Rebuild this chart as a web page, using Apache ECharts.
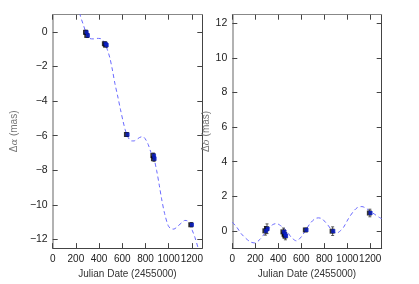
<!DOCTYPE html>
<html><head><meta charset="utf-8">
<script src="https://cdn.jsdelivr.net/npm/echarts@6/dist/echarts.min.js"></script>
<style>html,body{margin:0;padding:0;background:#fff}#c{width:419px;height:284px}</style>
</head><body><div id="c"></div>
<script>
// Observations, left panel (Delta alpha)
const alphaX = [287, 298, 450, 460, 640, 868, 873, 1195];
const alphaY = [-0.02, -0.2, -0.68, -0.76, -5.93, -7.15, -7.33, -11.15];
const alphaErr = [0.12, 0.12, 0.1, 0.1, 0.1, 0.15, 0.15, 0.12];
// Observations, right panel (Delta delta)
const deltaX = [288, 302, 445, 455, 462, 640, 873, 1197];
const deltaY = [0.0, 0.12, -0.06, -0.2, -0.3, 0.05, -0.02, 1.03];
const deltaErr = [0.25, 0.28, 0.22, 0.22, 0.22, 0.1, 0.25, 0.22];
// Model curves
const alphaCurve = [[220,1.5],[240,0.9],[260,0.5],[287,-0.03],[300,-0.2],[321,-0.38],[350,-0.4],[379,-0.37],[410,-0.38],[430,-0.45],[450,-0.68],[470,-1.0],[493,-1.5],[515,-2.2],[537,-3.0],[560,-3.7],[585,-4.5],[608,-5.2],[625,-5.65],[640,-5.95],[660,-6.2],[680,-6.3],[700,-6.3],[723,-6.22],[750,-6.1],[775,-6.05],[795,-6.15],[823,-6.5],[852,-7.05],[870,-7.25],[896,-8.0],[920,-8.9],[939,-9.65],[965,-10.5],[996,-11.2],[1020,-11.38],[1045,-11.4],[1075,-11.25],[1111,-11.04],[1140,-10.9],[1160,-10.92],[1183,-11.16],[1205,-11.5],[1226,-11.87],[1254,-12.5],[1270,-12.9]];
const deltaCurve = [[0,0.5],[40,0.2],[78,-0.17],[120,-0.45],[160,-0.65],[195,-0.7],[240,-0.5],[282,-0.15],[320,0.15],[350,0.35],[384,0.42],[420,0.3],[471,0.02],[510,-0.35],[558,-0.58],[600,-0.35],[640,0.05],[680,0.45],[720,0.7],[750,0.75],[780,0.7],[810,0.5],[837,0.29],[870,0.0],[910,-0.13],[940,0.0],[968,0.2],[1010,0.7],[1055,1.13],[1090,1.35],[1128,1.4],[1160,1.32],[1200,1.13],[1240,0.95],[1273,0.8],[1300,0.7]];
const xTicks = [0, 200, 400, 600, 800, 1000, 1200];
const alphaTicks = [0, -2, -4, -6, -8, -10, -12];
const deltaTicks = [0, 2, 4, 6, 8, 10, 12];

const font = 'Liberation Sans, Arial, sans-serif';
const fmt = v => String(v).replace('-', '\u2212');
function xAx(grid, max, pos, show) {
  return {
    type: 'value', gridIndex: grid, min: 0, max: max, position: pos,
    axisLine: {show: true, onZero: false, lineStyle: {color: pos === 'top' ? '#888' : '#444', width: 1}},
    axisTick: {show: true, inside: true, length: 5, customValues: xTicks, lineStyle: {color: '#444'}},
    axisLabel: {show: show, customValues: xTicks, interval: 0, hideOverlap: false, showMinLabel: true, showMaxLabel: true,
      color: '#222', fontSize: 10, fontFamily: font, margin: 6, formatter: v => String(v)},
    splitLine: {show: false},
    name: show ? 'Julian Date (2455000)' : '', nameLocation: 'middle', nameGap: 19,
    nameTextStyle: {color: '#333', fontSize: 10, fontFamily: font}
  };
}
function yAx(grid, min, max, ticks, pos, show, name, gap) {
  return {
    type: 'value', gridIndex: grid, min: min, max: max, position: pos,
    axisLine: {show: true, onZero: false, lineStyle: {color: pos === 'left' ? '#999' : '#444', width: pos === 'left' ? 1.5 : 1}},
    axisTick: {show: true, inside: true, length: 5, customValues: ticks, lineStyle: {color: '#444'}},
    axisLabel: {show: show, customValues: ticks, showMinLabel: true, showMaxLabel: true, color: '#222', fontSize: 10.5, fontFamily: font, margin: 5, formatter: fmt},
    splitLine: {show: false},
    name: name, nameLocation: 'middle', nameGap: gap, nameRotate: 90,
    nameTextStyle: {color: '#777', fontSize: 10, fontFamily: font,
      rich: {n: {color: '#777', fontSize: 10, fontFamily: font}, i: {color: '#777', fontSize: 10, fontFamily: 'DejaVu Serif, serif', fontStyle: 'italic'}}}
  };
}
function errSeries(xi, yi, xs, ys, es) {
  return {
    type: 'custom', xAxisIndex: xi, yAxisIndex: yi, z: 3,
    data: xs.map((x, k) => [x, ys[k], es[k]]),
    renderItem: (params, api) => {
      const x = api.value(0), y = api.value(1), e = api.value(2);
      const p1 = api.coord([x, y - e]), p2 = api.coord([x, y + e]);
      const st = {stroke: '#333', lineWidth: 0.8};
      return {type: 'group', children: [
        {type: 'line', shape: {x1: p1[0], y1: p1[1], x2: p2[0], y2: p2[1]}, style: st},
        {type: 'line', shape: {x1: p1[0]-1.5, y1: p1[1], x2: p1[0]+1.5, y2: p1[1]}, style: st},
        {type: 'line', shape: {x1: p2[0]-1.5, y1: p2[1], x2: p2[0]+1.5, y2: p2[1]}, style: st}
      ]};
    }
  };
}
function pts(xi, yi, xs, ys, color, size, dx, z) {
  return {type: 'scatter', xAxisIndex: xi, yAxisIndex: yi, symbol: 'rect', symbolSize: size,
    symbolOffset: [dx, 0], z: z, itemStyle: {color: color}, data: xs.map((x, k) => [x, ys[k]])};
}
function curve(xi, yi, data) {
  return {type: 'line', xAxisIndex: xi, yAxisIndex: yi, data: data, showSymbol: false, symbol: 'none',
    smooth: 0.3, clip: true, z: 2, lineStyle: {color: '#6a6aff', width: 1, type: [4, 3]}};
}
const chart = echarts.init(document.getElementById('c'), null, {renderer: 'canvas'});
chart.setOption({
  animation: false,
  backgroundColor: '#fff',
  grid: [
    {left: 52.7, top: 14.7, width: 149.6, height: 243.3},
    {left: 232.3, top: 14.7, width: 149.4, height: 243.3}
  ],
  xAxis: [xAx(0, 1290, 'bottom', true), xAx(0, 1290, 'top', false), xAx(1, 1300, 'bottom', true), xAx(1, 1300, 'top', false)],
  yAxis: [
    yAx(0, -12.5, 1, alphaTicks, 'left', true, '{n|\u0394}{i|\u03b1}{n| (mas)}', 33),
    yAx(0, -12.5, 1, alphaTicks, 'right', false, '', 0),
    yAx(1, -1, 12.5, deltaTicks, 'left', true, '{n|\u0394}{i|\u03b4}{n| (mas)}', 20),
    yAx(1, -1, 12.5, deltaTicks, 'right', false, '', 0)
  ],
  series: [
    curve(0, 0, alphaCurve),
    curve(2, 2, deltaCurve),
    errSeries(0, 0, alphaX, alphaY, alphaErr),
    errSeries(2, 2, deltaX, deltaY, deltaErr),
    pts(0, 0, alphaX, alphaY, '#000', 5, -0.5, 4),
    pts(0, 0, alphaX, alphaY, '#0a1fd0', 4, 0.7, 5),
    pts(2, 2, deltaX, deltaY, '#000', 5, -0.5, 4),
    pts(2, 2, deltaX, deltaY, '#0a1fd0', 4, 0.7, 5)
  ]
});
</script></body></html>
